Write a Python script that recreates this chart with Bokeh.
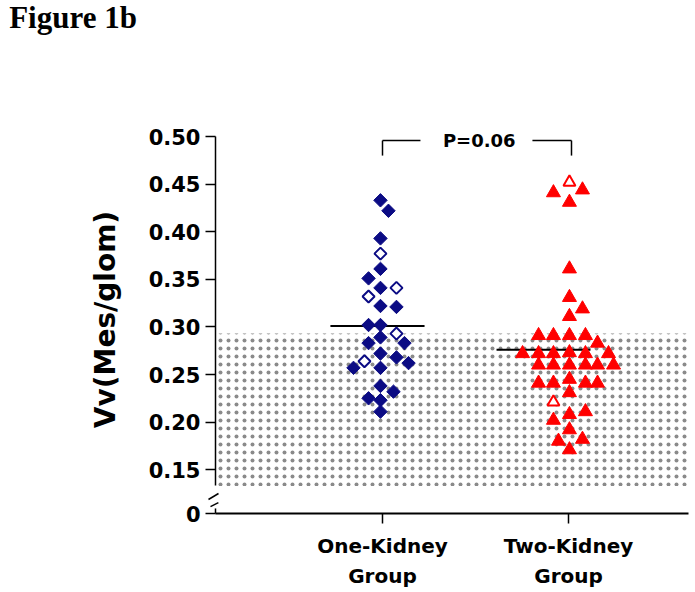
import numpy as np
from bokeh.plotting import figure
from bokeh.models import Range1d, FixedTicker, Label
from bokeh.embed import file_html
from bokeh.resources import INLINE
from bokeh.core.properties import value

# ---------------- data ----------------
group_pos = [1, 2]
group_labels = ["One-Kidney\nGroup", "Two-Kidney\nGroup"]

one_vals = [0.433, 0.422, 0.393, 0.377, 0.361, 0.351, 0.341, 0.341, 0.332, 0.322,
            0.321, 0.302, 0.302, 0.293, 0.289, 0.283, 0.283, 0.272, 0.268, 0.262,
            0.264, 0.257, 0.257, 0.238, 0.232, 0.225, 0.223, 0.211]
one_jitter = [-0.011, 0.032, -0.011, -0.011, -0.011, -0.075, -0.011, 0.075, -0.075, -0.011,
              0.075, -0.075, -0.011, 0.075, -0.011, -0.075, 0.118, -0.011, 0.075, 0.140,
              -0.097, -0.156, -0.011, -0.011, 0.059, -0.075, -0.011, -0.011]
one_open = [False, False, False, True, False, False, False, True, True, False,
            False, False, False, True, False, False, False, False, False, False,
            True, False, False, False, False, False, False, False]

two_vals = [0.452, 0.441, 0.444, 0.431, 0.361, 0.331, 0.319, 0.311,
            0.291, 0.291, 0.291, 0.291, 0.283,
            0.272, 0.272, 0.272, 0.273, 0.272, 0.272,
            0.260, 0.260, 0.260, 0.260, 0.260, 0.260,
            0.241, 0.241, 0.245, 0.241, 0.241,
            0.231, 0.221, 0.211, 0.208, 0.202, 0.192, 0.180, 0.182, 0.171]
two_jitter = [0.005, -0.081, 0.075, 0.005, 0.005, 0.005, 0.075, 0.005,
              -0.161, -0.081, 0.005, 0.091, 0.156,
              -0.247, -0.161, -0.081, 0.005, 0.091, 0.215,
              -0.161, -0.081, 0.005, 0.091, 0.156, 0.242,
              -0.161, -0.081, 0.005, 0.091, 0.156,
              0.005, -0.081, 0.091, 0.005, -0.081, 0.005, -0.054, 0.075, 0.005]
two_open = [True] + [False] * 30 + [True] + [False] * 7

group_means = [0.301, 0.276]
mean_extent = [(-0.28, 0.226), (-0.387, 0.118)]
normal_range = (0.133, 0.293)
p_value_text = "P=0.06"

y_tick_pos = [0.104, 0.15, 0.20, 0.25, 0.30, 0.35, 0.40, 0.45, 0.50]
y_tick_labels = ["0", "0.15", "0.20", "0.25", "0.30", "0.35", "0.40", "0.45", "0.50"]

# ---------------- figure ----------------
FONT = "DejaVu Sans"
NAVY = "#0b0b84"
RED = "#ff0000"

x0, x1 = 0.1022, 2.645
p = figure(width=695, height=592, output_backend="svg", toolbar_location=None,
           x_range=Range1d(x0, x1), y_range=Range1d(0.104, 0.5116),
           min_border_left=215, min_border_right=7, min_border_top=125,
           min_border_bottom=79, outline_line_color=None)
p.xgrid.visible = False
p.ygrid.visible = False

# shaded reference region
p.quad(left=[x0], right=[2.66], bottom=[normal_range[0]], top=[normal_range[1]],
       fill_color=None, line_color=None, hatch_pattern="dot",
       hatch_color="#8a8a8a", hatch_scale=8, hatch_weight=0.5, level="underlay")

# mean lines
p.segment(x0=[g + e[0] for g, e in zip(group_pos, mean_extent)],
          y0=group_means,
          x1=[g + e[1] for g, e in zip(group_pos, mean_extent)],
          y1=group_means, line_color="black", line_width=2)

# One-kidney diamonds
ox = [group_pos[0] + j for j in one_jitter]
fx = [x for x, o in zip(ox, one_open) if not o]
fy = [v for v, o in zip(one_vals, one_open) if not o]
hx = [x for x, o in zip(ox, one_open) if o]
hy = [v for v, o in zip(one_vals, one_open) if o]
p.scatter(fx, fy, marker="square", angle=np.pi / 4, size=9.5,
          fill_color=NAVY, line_color=NAVY, line_width=1)
p.scatter(hx, hy, marker="square", angle=np.pi / 4, size=8.5,
          fill_color="white", line_color=NAVY, line_width=2)

# Two-kidney triangles
tx = [group_pos[1] + j for j in two_jitter]
fx = [x for x, o in zip(tx, two_open) if not o]
fy = [v for v, o in zip(two_vals, two_open) if not o]
hx = [x for x, o in zip(tx, two_open) if o]
hy = [v for v, o in zip(two_vals, two_open) if o]
p.scatter(fx, fy, marker="triangle", size=14,
          fill_color=RED, line_color=RED, line_width=1)
p.scatter(hx, hy, marker="triangle", size=12,
          fill_color="white", line_color=RED, line_width=2)

# P-value bracket
yb = 0.4958
p.segment(x0=[1.0, 1.0, 1.806, 2.016], y0=[yb, yb, yb, yb],
          x1=[1.0, 1.204, 2.016, 2.016], y1=[0.480, yb, yb, 0.480],
          line_color="black", line_width=1.5, level="overlay")
p.add_layout(Label(x=1.52, y=yb, text=p_value_text, text_align="center",
                   text_baseline="middle", text_font=FONT, text_font_style="bold",
                   text_font_size="18px", text_color="black"))

# axis break
p.segment(x0=[x0], y0=[0.1334], x1=[x0], y1=[0.1093], line_color="white",
          line_width=6, level="overlay")
p.segment(x0=[0.0645, 0.0753], y0=[0.1187, 0.1113], x1=[0.1183, 0.1177],
          y1=[0.125, 0.1155], line_color="black", line_width=1.5, level="overlay")

# title (overlay level so it is drawn outside the frame)
p.text(x=[-1.007], y=[0.625], text=["Figure 1b"], text_align="left",
       text_baseline="alphabetic", text_font=value("Liberation Serif"),
       text_font_style="bold", text_font_size="31px", text_color="black",
       level="overlay")

# axes
ya = p.yaxis[0]
ya.ticker = FixedTicker(ticks=y_tick_pos)
ya.major_label_overrides = dict(zip(y_tick_pos, y_tick_labels))
ya.bounds = (0.104, 0.50)
ya.minor_tick_line_color = None
ya.major_tick_in = 0
ya.major_tick_out = 10
ya.major_tick_line_width = 1.5
ya.axis_line_width = 1.5
ya.major_label_text_font = FONT
ya.major_label_text_font_style = "bold"
ya.major_label_text_font_size = "21px"
ya.major_label_text_color = "black"
ya.major_label_standoff = 5
ya.axis_label = "Vv(Mes/glom)"
ya.axis_label_text_font = FONT
ya.axis_label_text_font_style = "bold"
ya.axis_label_text_font_size = "28px"
ya.axis_label_text_color = "black"
ya.axis_label_standoff = 24

xa = p.xaxis[0]
xa.ticker = FixedTicker(ticks=group_pos)
xa.major_label_overrides = dict(zip(group_pos, group_labels))
xa.minor_tick_line_color = None
xa.major_tick_in = 0
xa.major_tick_out = 10
xa.major_tick_line_width = 1.5
xa.axis_line_width = 2
xa.major_label_text_font = FONT
xa.major_label_text_font_style = "bold"
xa.major_label_text_font_size = "20px"
xa.major_label_text_color = "black"
xa.major_label_text_line_height = 1.28
xa.major_label_standoff = 10

open("out.html", "w").write(file_html(p, INLINE))
